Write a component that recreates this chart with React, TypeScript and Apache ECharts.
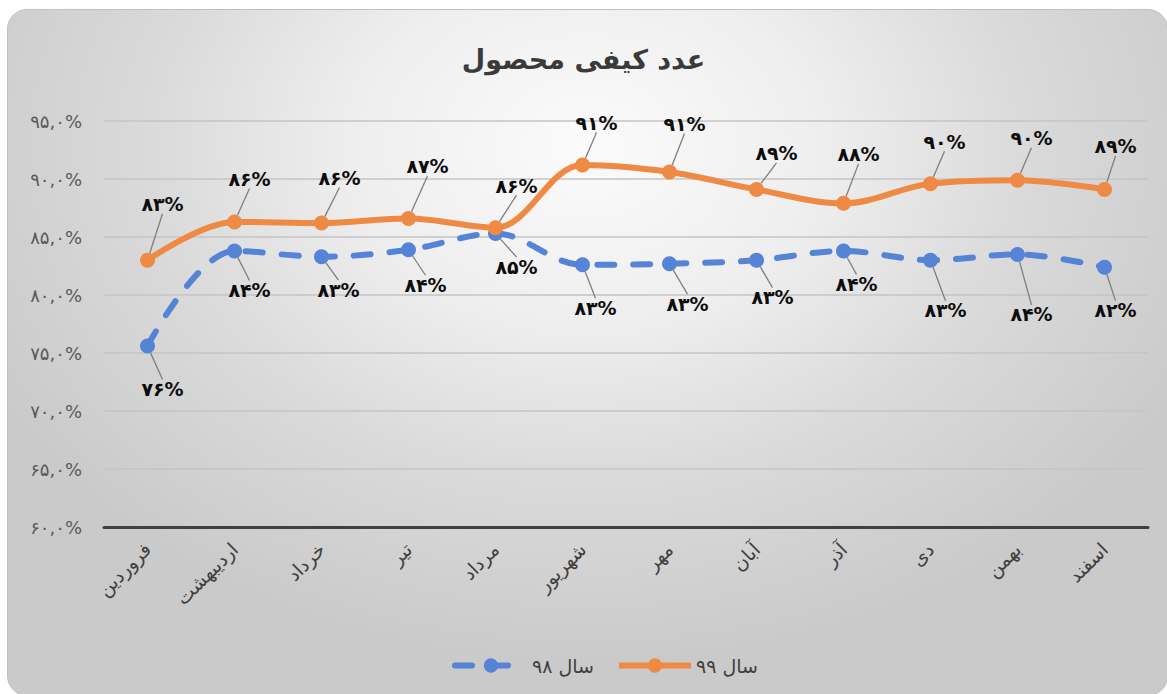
import React, { useEffect, useRef } from "react";
import * as echarts from "echarts";

const months = ["فروردین", "اردیبهشت", "خرداد", "تیر", "مرداد", "شهریور", "مهر", "آبان", "آذر", "دی", "بهمن", "اسفند"];
const year98 = [75.6, 83.8, 83.3, 83.9, 85.3, 82.6, 82.7, 83.0, 83.8, 83.0, 83.5, 82.4];
const year99 = [83.0, 86.3, 86.2, 86.6, 85.8, 91.2, 90.6, 89.1, 87.9, 89.6, 89.9, 89.1];
const seriesNames = ["سال ۹۸", "سال ۹۹"];
const titleText = "عدد کیفی محصول";
const yTicks = { min: 60, max: 95, interval: 5 };

// label offsets (layout only)
const dy98 = [43, 39, 33, 35, 33, 43, 40, 37, 33, 50, 60, 43];
const dy99 = [-56, -43, -45, -52, -42, -42, -48, -36, -49, -42, -42, -43];
const dx98 = [15, 15, 17, 17, 21, 13, 18, 16, 13, 15, 14, 11];
const dx99 = [15, 15, 18, 19, 21, 14, 15, 20, 15, 14, 14, 11];

const toFa = (s: string | number) => String(s).replace(/\d/g, (d) => "۰۱۲۳۴۵۶۷۸۹"[+d]);

const BLUE = "#5583D6";
const ORANGE = "#EF8A45";
const FONT = "DejaVu Sans";

export default function App() {
  const ref = useRef<HTMLDivElement>(null);
  useEffect(() => {
    if (!ref.current) return;
    const chart = echarts.init(ref.current, undefined, { renderer: "svg" });
    const labelCommon = {
      show: true,
      position: "inside" as const,
      fontFamily: FONT,
      fontSize: 19,
      fontWeight: "bold" as const,
      color: "#0d0d0d",
      formatter: (p: any) => toFa(Math.round(p.value)) + "%",
    };
    chart.setOption({
      animation: false,
      backgroundColor: "transparent",
      title: {
        text: titleText,
        left: "center",
        top: 41,
        textStyle: { fontFamily: FONT, fontSize: 27, fontWeight: "bold", color: "#3a3a3a" },
      },
      grid: { left: 104, right: 19, top: 121, bottom: 167 },
      legend: {
        data: seriesNames,
        left: 447,
        top: 651,
        itemWidth: 72,
        itemHeight: 18,
        itemGap: 22,
        lineStyle: { width: 6 },
        textStyle: { fontFamily: FONT, fontSize: 19, color: "#404040" },
      },
      xAxis: {
        type: "category",
        data: months,
        boundaryGap: true,
        axisLine: { show: true, lineStyle: { color: "#404040", width: 3 } },
        axisTick: { show: false },
        axisLabel: { rotate: 45, margin: 19, fontFamily: FONT, fontSize: 19, color: "#404040", interval: 0 },
      },
      yAxis: {
        type: "value",
        min: yTicks.min,
        max: yTicks.max,
        interval: yTicks.interval,
        axisLine: { show: false },
        axisTick: { show: false },
        splitLine: { lineStyle: { color: "#c4c4c4", width: 1.5 } },
        axisLabel: {
          margin: 22,
          fontFamily: FONT,
          fontSize: 18,
          color: "#595959",
          formatter: (v: number) => toFa(v) + ",۰%",
        },
      },
      series: [
        {
          name: seriesNames[0],
          type: "line",
          data: year98,
          smooth: 0.35,
          symbol: "circle",
          symbolSize: 15,
          itemStyle: { color: BLUE },
          lineStyle: { color: BLUE, width: 6, type: [17, 19], cap: "round" },
          label: labelCommon,
          labelLine: { show: true, lineStyle: { color: "#7f7f7f", width: 1.3 } },
          labelLayout: (p: any) => ({ dx: dx98[p.dataIndex], dy: dy98[p.dataIndex] }),
          z: 2,
        },
        {
          name: seriesNames[1],
          type: "line",
          data: year99,
          smooth: 0.35,
          symbol: "circle",
          symbolSize: 15,
          itemStyle: { color: ORANGE },
          lineStyle: { color: ORANGE, width: 6 },
          label: labelCommon,
          labelLine: { show: true, lineStyle: { color: "#7f7f7f", width: 1.3 } },
          labelLayout: (p: any) => ({ dx: dx99[p.dataIndex], dy: dy99[p.dataIndex] }),
          z: 3,
        },
      ],
    });
    return () => chart.dispose();
  }, []);

  return (
    <div style={{ position: "fixed", left: 0, top: 0, width: 1167, height: 694, background: "#fff", overflow: "hidden" }}>
      <div
        style={{
          position: "absolute",
          left: 7,
          top: 9,
          width: 1161,
          height: 687,
          borderRadius: 20,
          border: "1px solid #c0c0c0",
          boxSizing: "border-box",
          background:
            "radial-gradient(ellipse 58% 75% at 50% 20%, #fbfbfb 0%, #eeeeee 35%, #dadada 65%, #cacaca 100%)",
        }}
      />
      <div ref={ref} style={{ position: "absolute", left: 0, top: 0, width: 1167, height: 694 }} />
    </div>
  );
}
